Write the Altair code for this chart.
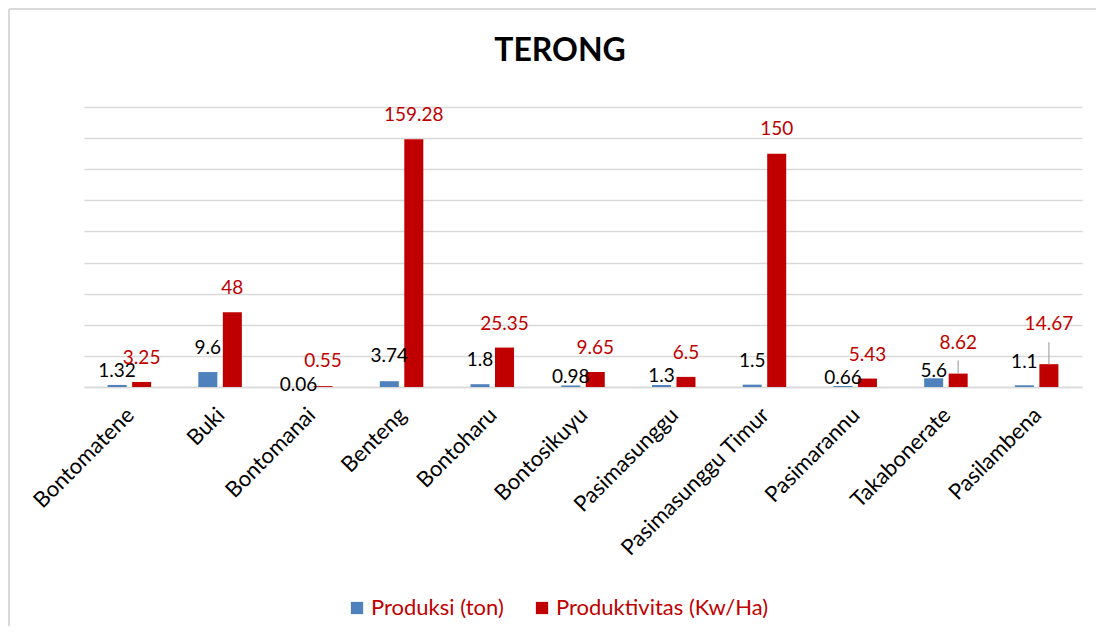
import altair as alt
import pandas as pd

categories = ["Bontomatene", "Buki", "Bontomanai", "Benteng", "Bontoharu", "Bontosikuyu",
              "Pasimasunggu", "Pasimasunggu Timur", "Pasimarannu", "Takabonerate", "Pasilambena"]
produksi = [1.32, 9.6, 0.06, 3.74, 1.8, 0.98, 1.3, 1.5, 0.66, 5.6, 1.1]
produktivitas = [3.25, 48, 0.55, 159.28, 25.35, 9.65, 6.5, 150, 5.43, 8.62, 14.67]
series_names = ["Produksi (ton)", "Produktivitas (Kw/Ha)"]
chart_title = "TERONG"

# label placement style (pixels above bar top, as moved in the original)
produksi_lift = [14, 24, 2, 25, 24, 8, 9, 24, 8, 7, 23]
produktivitas_lift = [24, 24, 25, 24, 24, 24, 24, 25, 24, 31, 40]
produktivitas_leader = [False] * 9 + [True, True]

rows = []
for i, c in enumerate(categories):
    rows.append(dict(kecamatan=c, series=series_names[0], value=produksi[i],
                     label=f"{produksi[i]:g}", lift=produksi_lift[i], leader=False,
                     leadlift=0))
    rows.append(dict(kecamatan=c, series=series_names[1], value=produktivitas[i],
                     label=f"{produktivitas[i]:g}", lift=produktivitas_lift[i],
                     leader=produktivitas_leader[i], leadlift=produktivitas_lift[i] - 18))
df = pd.DataFrame(rows)

FONT = "Lato"
W, H = 998, 280
YMAX = 180
PX2DATA = YMAX / H

x_enc = alt.X("kecamatan:N", sort=categories,
              scale=alt.Scale(paddingInner=0, paddingOuter=0),
              axis=alt.Axis(title=None, labelAngle=-45, ticks=False, domainColor="#d9d9d9",
                            domainWidth=1.5, labelFontSize=22, labelFont=FONT,
                            labelColor="black", labelPadding=17, labelOffset=-6,
                            labelLimit=400))
xoff = alt.XOffset("series:N", sort=series_names,
                   scale=alt.Scale(domain=series_names, paddingInner=0.2245, paddingOuter=0.963))
yscale = alt.Scale(domain=[0, YMAX], nice=False)
yaxis = alt.Axis(title=None, labels=False, ticks=False, domain=False,
                 values=list(range(0, YMAX + 1, 20)), gridColor="#d9d9d9", gridWidth=1.5)
y_enc = alt.Y("value:Q", scale=yscale, axis=yaxis)

base = alt.Chart(df)

bars = base.mark_bar().encode(
    x=x_enc, xOffset=xoff, y=y_enc,
    color=alt.Color("series:N", sort=series_names,
                    scale=alt.Scale(domain=series_names, range=["#4F81BD", "#C00000"]),
                    legend=alt.Legend(title=None, orient="none", direction="horizontal",
                                      legendX=262, legendY=490, symbolType="square",
                                      symbolSize=150, symbolStrokeWidth=0,
                                      labelFontSize=22, labelFont=FONT, labelColor="#C00000",
                                      labelOffset=3, columnPadding=27, labelLimit=400)),
)

labels = base.transform_calculate(
    ly="datum.value + datum.lift * %f" % PX2DATA
).mark_text(font=FONT, fontSize=19, baseline="middle", align="center").encode(
    x=x_enc, xOffset=xoff, y=alt.Y("ly:Q", scale=yscale, axis=yaxis),
    text="label:N",
    color=alt.condition(alt.datum.series == series_names[0], alt.value("black"),
                        alt.value("#C00000")),
)

leaders = base.transform_filter(alt.datum.leader).transform_calculate(
    top="datum.value + datum.leadlift * %f" % PX2DATA
).mark_rule(color="#a6a6a6", strokeWidth=1.2).encode(
    x=x_enc, xOffset=xoff, y=y_enc, y2="top:Q",
)

frame_df = pd.DataFrame({"k": [0]})
left_border = alt.Chart(frame_df).mark_rule(color="#d9d9d9", strokeWidth=2).encode(
    x=alt.value(-75), y=alt.value(-98), y2=alt.value(519))
top_border = alt.Chart(frame_df).mark_rule(color="#d9d9d9", strokeWidth=2).encode(
    y=alt.value(-98), x=alt.value(-75), x2=alt.value(1012))
title = alt.Chart(frame_df).mark_text(
    text=chart_title, font=FONT, fontSize=32, fontWeight="bold", color="black",
    baseline="middle", align="center").encode(x=alt.value(476), y=alt.value(-56))

chart = alt.layer(left_border, top_border, title, bars, leaders, labels).properties(
    width=W, height=H,
    padding={"left": 0, "top": 0, "right": 0, "bottom": 0},
).configure_view(stroke=None)

chart.save("out.html", embed_options={"renderer": "svg", "actions": False})
